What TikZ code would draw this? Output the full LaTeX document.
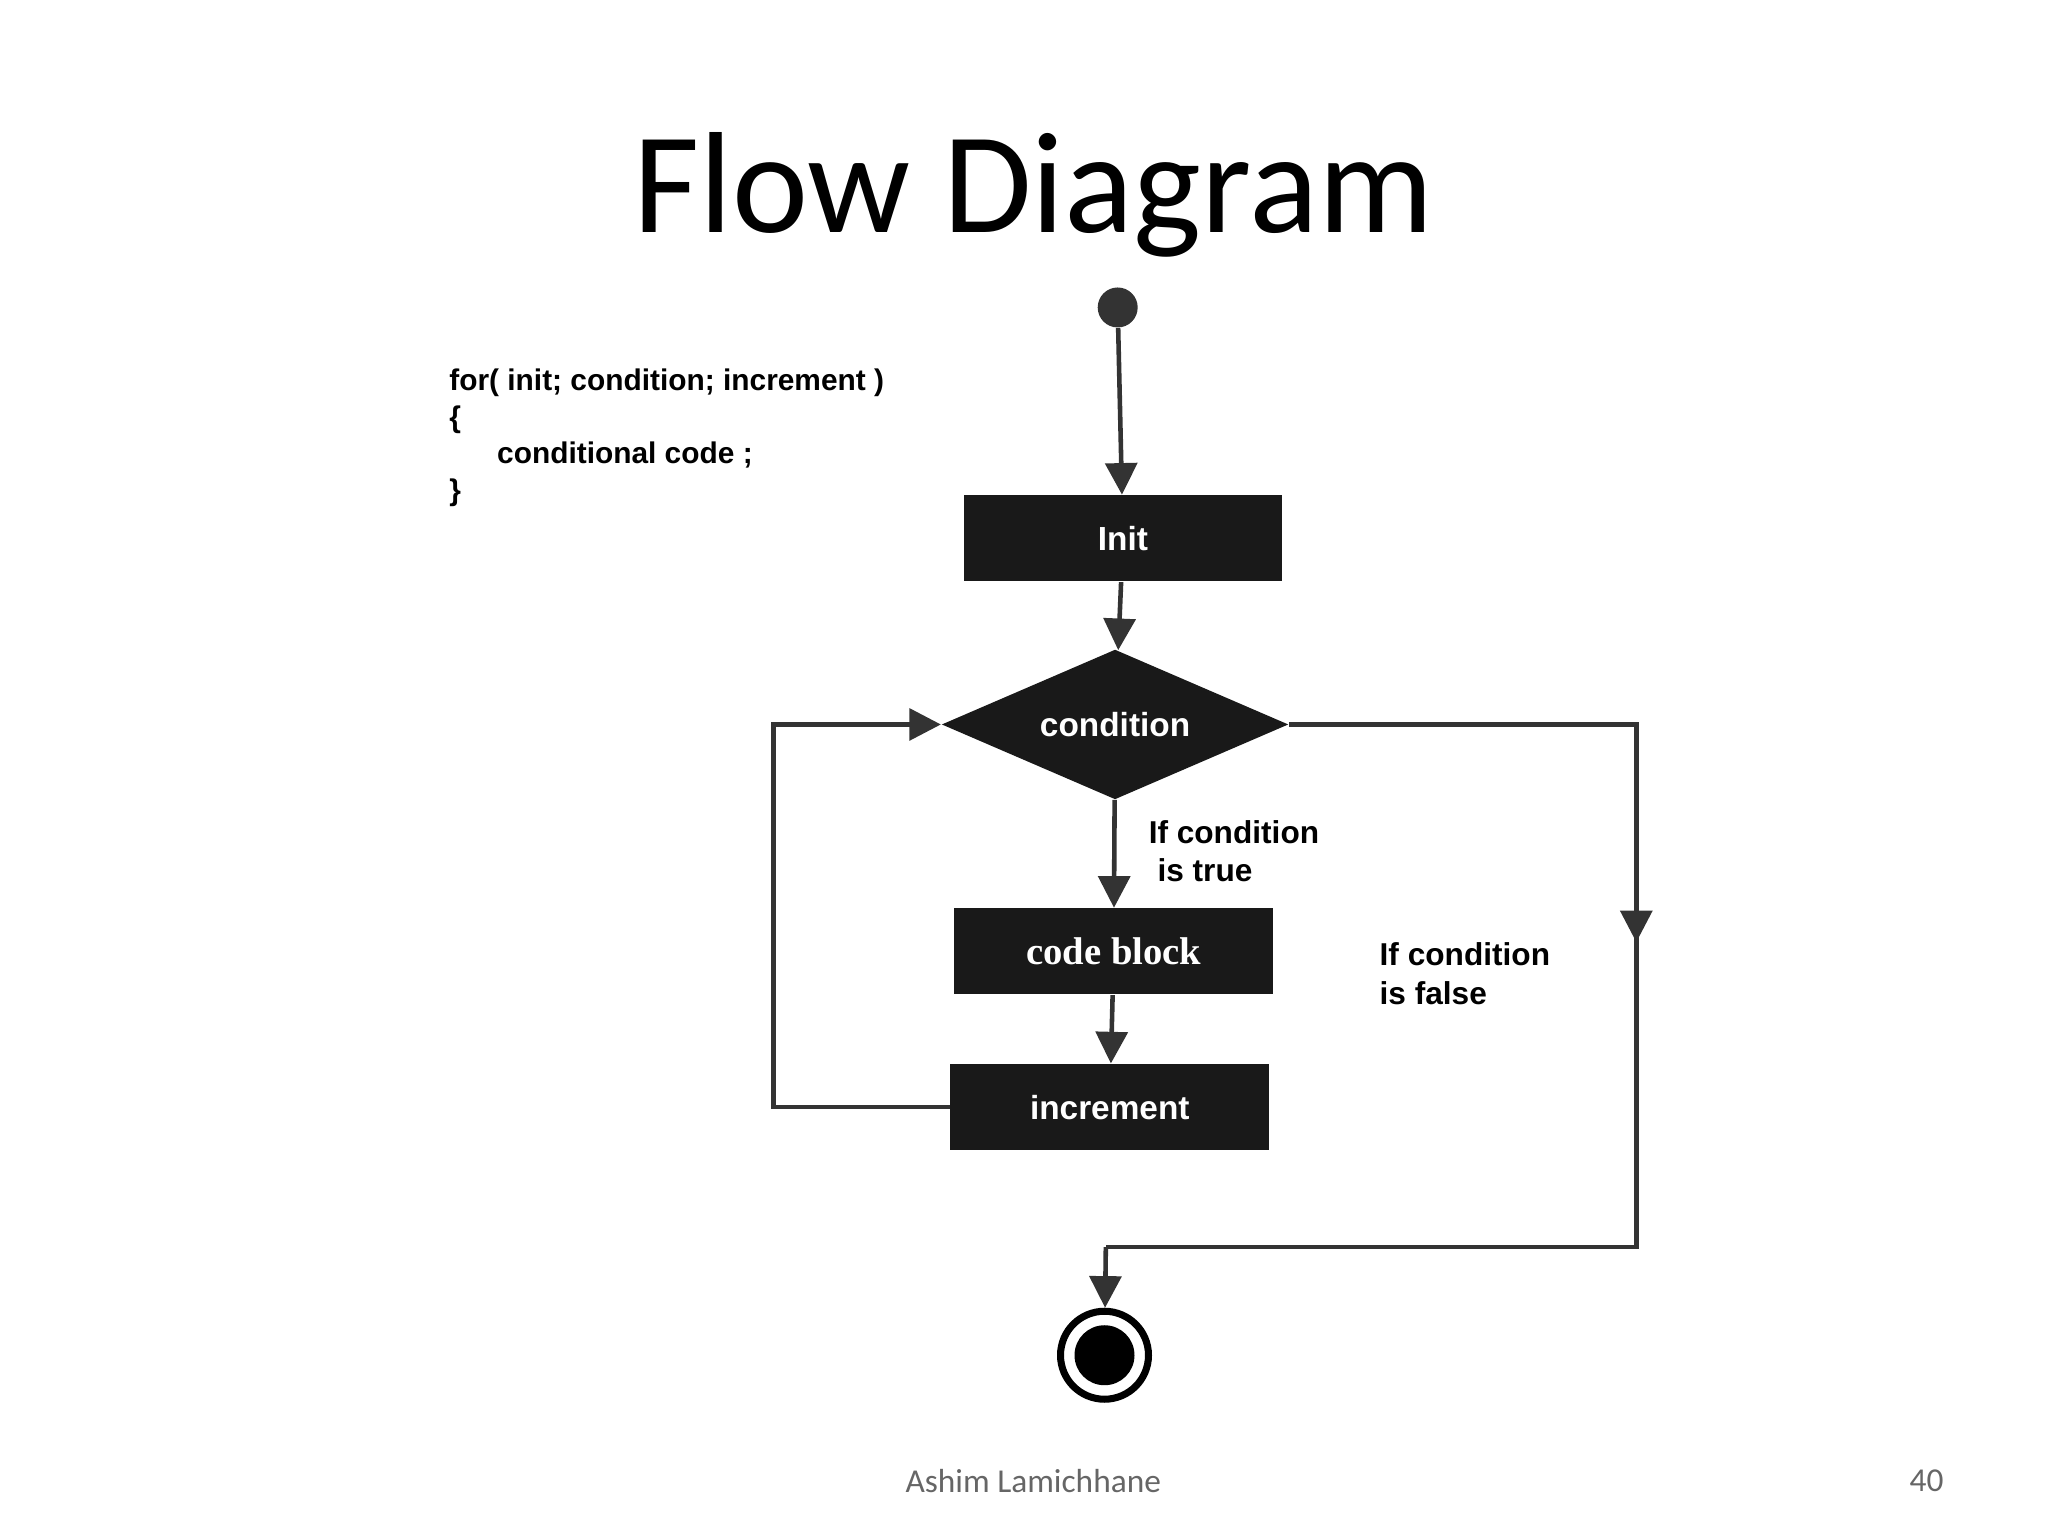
\documentclass[tikz,border=0pt]{standalone}
\usepackage{fontspec}
\setmainfont{Liberation Sans}
\newfontfamily\titlefont{Carlito}
\newfontfamily\serifbold{Liberation Serif}
\usetikzlibrary{shapes.geometric,arrows.meta}
\begin{document}
\begin{tikzpicture}[x=0.013196cm,y=-0.013196cm,
  line/.style={draw=black!80,line width=1.3pt},
  arr/.style={line,-{Triangle[length=9pt,width=9pt]}},
  box/.style={fill=black!90,text=white,font=\bfseries\fontsize{9.5}{11}\selectfont,
    minimum width=3.19cm,minimum height=0.86cm,inner sep=0pt},
  lbl/.style={font=\bfseries\fontsize{9}{11}\selectfont,align=left,anchor=north west,inner sep=0pt}]
\useasboundingbox (0,0) rectangle (1552,1164);
\node[font=\titlefont\fontsize{41}{48}\selectfont] (title) at (783,148) {Flow Diagram};
\node[circle,fill=black!80,minimum size=0.4cm,inner sep=0pt] (start) at (847,233) {};
\node[lbl,font=\bfseries\fontsize{8.5}{10.4}\selectfont] (code) at (340,279)
  {for( init; condition; increment )\\\{\\\hspace{1.6em}conditional code ;\\\}};
\node[box] (init) at (851,408) {Init};
\node[diamond,fill=black!90,text=white,font=\bfseries\fontsize{9.5}{11}\selectfont,
  minimum width=3.47cm,minimum height=1.5cm,inner sep=0pt,aspect=2.3] (cond) at (845,549) {};
\node[text=white,font=\bfseries\fontsize{9.5}{11}\selectfont] at (cond) {condition};
\node[box,font=\serifbold\bfseries\fontsize{11}{13}\selectfont] (blk) at (844,721) {code block};
\node[box] (inc) at (841,839) {increment};
\node[circle,draw=black,line width=2pt,fill=white,minimum size=0.88cm,inner sep=0pt] (stop) at (837,1027) {};
\node[circle,fill=black,minimum size=0.6cm,inner sep=0pt] at (stop) {};
\node[lbl] (ltrue) at (870,621) {If condition\\\ is true};
\node[lbl] (lfalse) at (1045,714) {If condition\\is false};
\coordinate (r1) at (1240,549);
\coordinate (r2) at (1240,945);
\coordinate (r3) at (838,945);
\coordinate (l1) at (586,839);
\coordinate (l2) at (586,549);
\draw[arr] (start) -- (init);
\draw[arr] (init) -- (cond);
\draw[arr] (cond) -- (blk);
\draw[arr] (blk) -- (inc);
\draw[arr] (inc.west) -- (l1) -- (l2) -- (cond.west);
\draw[arr] (cond.east) -- (r1) -- (1240,714);
\draw[line] (1240,700) -- (r2) -- (r3);
\draw[arr] (r3) -- (stop);
\node[text=black!60,font=\titlefont\fontsize{9.5}{11}\selectfont] (author) at (783,1122) {Ashim Lamichhane};
\node[text=black!60,font=\titlefont\fontsize{9.5}{11}\selectfont] (page) at (1460,1122) {40};
\end{tikzpicture}
\end{document}
